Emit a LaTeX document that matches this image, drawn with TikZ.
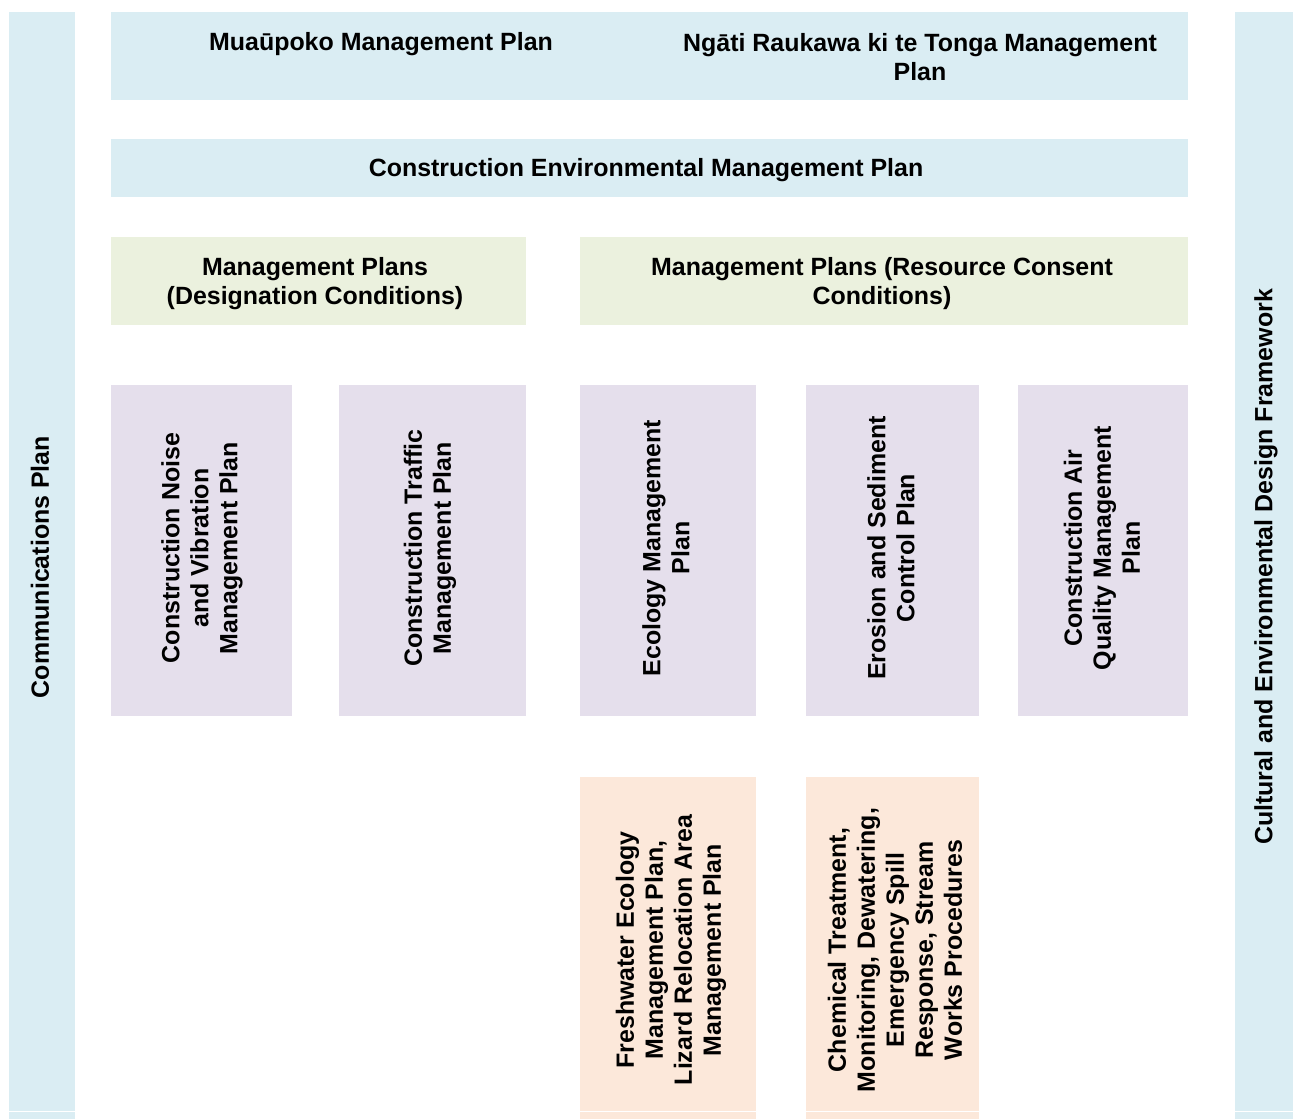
\documentclass[tikz,border=0pt]{standalone}
\usepackage{fontspec}
\setmainfont{Liberation Sans}
\usetikzlibrary{positioning}
\definecolor{planblue}{HTML}{DAEDF3}
\definecolor{plangreen}{HTML}{EBF1DE}
\definecolor{planlilac}{HTML}{E5DFEC}
\definecolor{planpeach}{HTML}{FCE8DA}
\tikzset{
  lbl/.style={font=\fontsize{14.2}{16.5}\selectfont\bfseries, align=center, inner sep=0pt},
  vlbl/.style={lbl, rotate=90}
}

\begin{document}
\begin{tikzpicture}[x=0.02cm, y=-0.02cm]
	%%%%% START %%%%%
	\useasboundingbox (0, 0) rectangle (1293, 1119);
	
	% side bars
	\fill[planblue] (9, 12) rectangle (75, 1119);
	\fill[planblue] (1235, 12) rectangle (1293, 1119);
	
	% top rows
	\fill[planblue] (111, 12) rectangle (1188, 100);
	\fill[planblue] (111, 139) rectangle (1188, 197);
	\fill[plangreen] (111, 237) rectangle (526, 325);
	\fill[plangreen] (580, 237) rectangle (1188, 325);
	
	% plans
	\fill[planlilac] (111, 385) rectangle (292, 716);
	\fill[planlilac] (339, 385) rectangle (526, 716);
	\fill[planlilac] (580, 385) rectangle (756, 716);
	\fill[planlilac] (806, 385) rectangle (979, 716);
	\fill[planlilac] (1018, 385) rectangle (1188, 716);
	
	% sub plans
	\fill[planpeach] (580, 777) rectangle (756, 1119);
	\fill[planpeach] (806, 777) rectangle (979, 1119);
	
	% page break
	\draw[white, line width=0.03cm] (0, 1111.5) -- (1293, 1111.5);
	
	\node[vlbl] (comms) at (40, 567) {Communications Plan};
	\node[vlbl] (cedf) at (1266, 567) {Cultural and Environmental Design Framework};
	
	\node[lbl] (muaupoko) at (381, 44) {Muaūpoko Management Plan};
	\node[lbl, anchor=north] (raukawa) at (920, 33) {Ngāti Raukawa ki te Tonga Management\\Plan};
	\node[lbl] (cemp) at (646, 170) {Construction Environmental Management Plan};
	\node[lbl] (desig) at (315, 284) {Management Plans\\(Designation Conditions)};
	\node[lbl] (consent) at (882, 284) {Management Plans (Resource Consent\\Conditions)};
	
	\node[vlbl] (cnvmp) at (202, 548) {Construction Noise\\and Vibration\\Management Plan};
	\node[vlbl] (ctmp) at (430, 548) {Construction Traffic\\Management Plan};
	\node[vlbl] (emp) at (666, 548) {Ecology Management\\Plan};
	\node[vlbl] (escp) at (891, 548) {Erosion and Sediment\\Control Plan};
	\node[vlbl] (caqmp) at (1102, 548) {Construction Air\\Quality Management\\Plan};
	
	\node[vlbl] (fresh) at (671, 950) {Freshwater Ecology\\Management Plan,\\Lizard Relocation Area\\Management Plan};
	\node[vlbl] (works) at (895, 950) {Chemical Treatment,\\Monitoring, Dewatering,\\Emergency Spill\\Response, Stream\\Works Procedures};
	%%%%% END %%%%%
\end{tikzpicture}
\end{document}
